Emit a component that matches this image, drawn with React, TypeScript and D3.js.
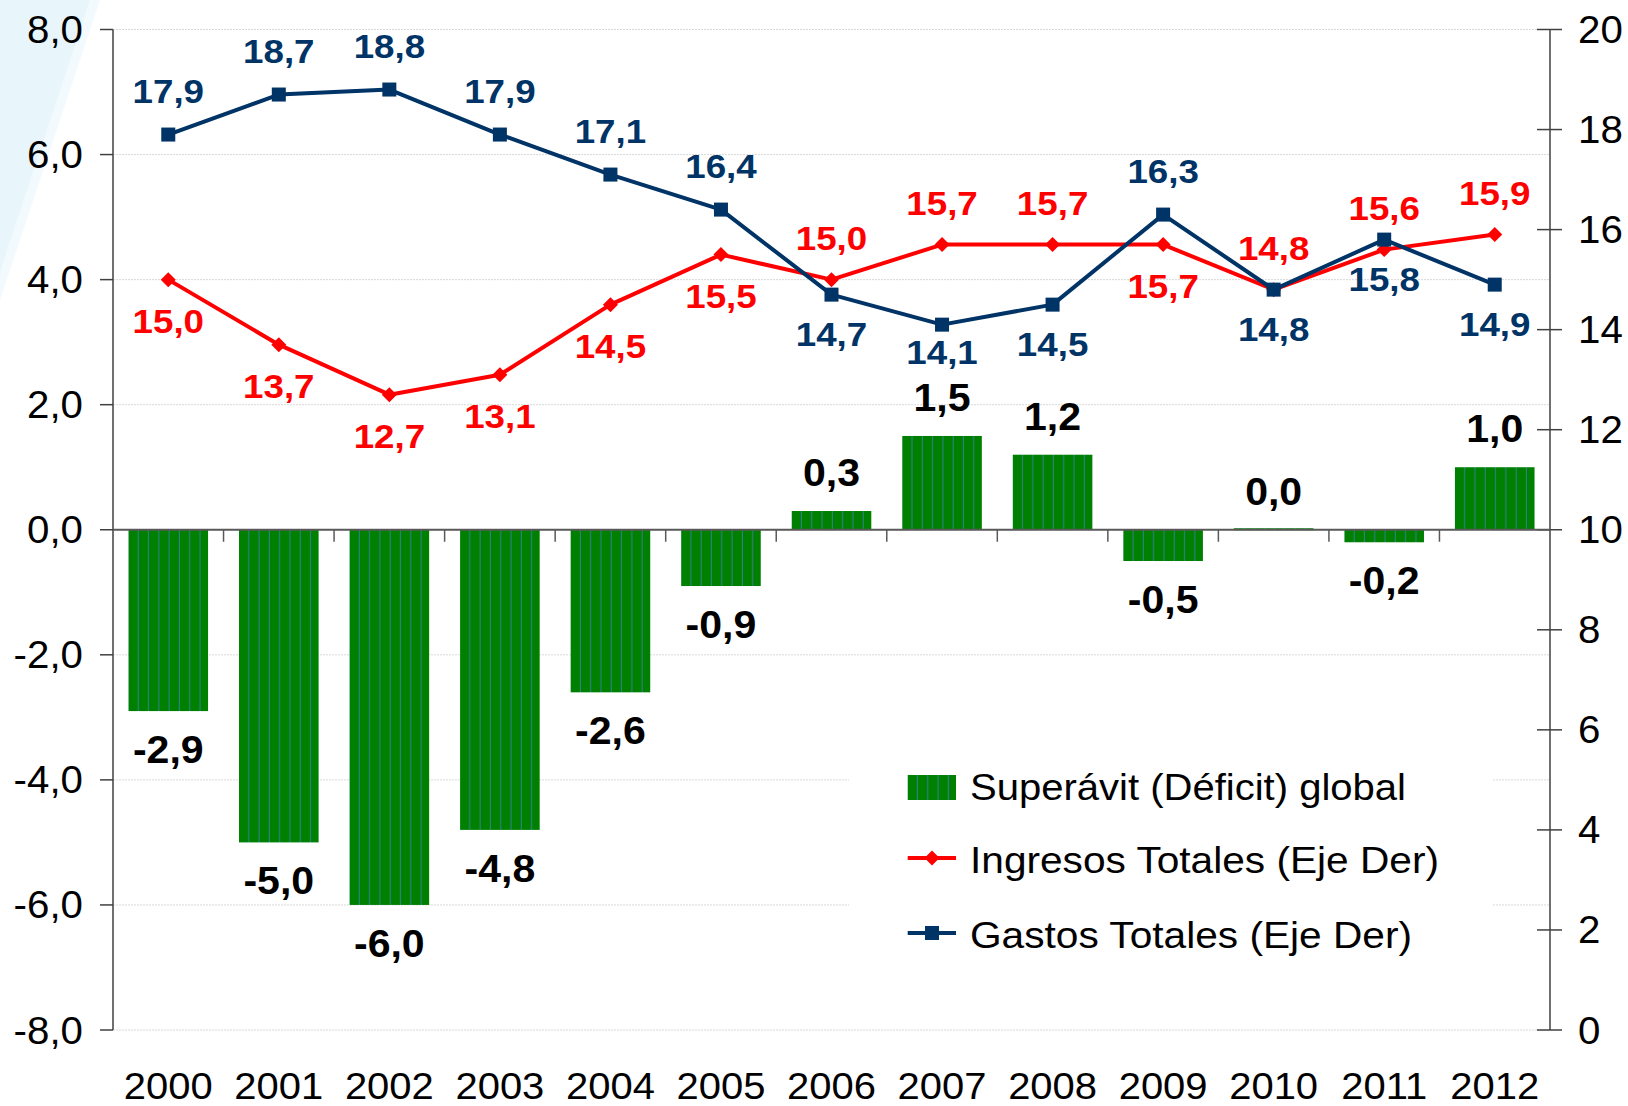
import React from 'react';
import * as d3 from 'd3';

const years = ['2000','2001','2002','2003','2004','2005','2006','2007','2008','2009','2010','2011','2012'];
const superavit = [-2.9, -5.0, -6.0, -4.8, -2.6, -0.9, 0.3, 1.5, 1.2, -0.5, 0.0, -0.2, 1.0];
const ingresos = [15.0, 13.7, 12.7, 13.1, 14.5, 15.5, 15.0, 15.7, 15.7, 15.7, 14.8, 15.6, 15.9];
const gastos = [17.9, 18.7, 18.8, 17.9, 17.1, 16.4, 14.7, 14.1, 14.5, 16.3, 14.8, 15.8, 14.9];
const leftTicks = [8, 6, 4, 2, 0, -2, -4, -6, -8];
const rightTicks = [20, 18, 16, 14, 12, 10, 8, 6, 4, 2, 0];
const legendLabels = ['Superávit (Déficit) global', 'Ingresos Totales (Eje Der)', 'Gastos Totales (Eje Der)'];

const W = 1628, H = 1106;
const L = 113, R = 1550, T = 29.5, B = 1030;
const FONT = '"Liberation Sans", Arial, Helvetica, sans-serif';
const GREEN = '#008000';
const STRIPE = '#2f8087';
const RED = '#ff0000';
const NAVY = '#003366';

const fmt1 = (v: number) => d3.format('.1f')(v).replace('.', ',').replace('−', '-');

type TxtProps = {
  x: number; y: number; sx?: number; size: number; anchor?: string; weight?: string; fill?: string; children: React.ReactNode;
};
function Txt({ x, y, sx = 1, size, anchor = 'start', weight = 'normal', fill = '#000', children }: TxtProps) {
  return (
    <text transform={`translate(${x},${y}) scale(${sx},1)`} fontSize={size} textAnchor={anchor} fontWeight={weight} fill={fill}>
      {children}
    </text>
  );
}

export default function App() {
  const x = d3.scaleBand<string>().domain(years).range([L, R]).paddingInner(0.28).paddingOuter(0.14);
  const step = x.step();
  const cx = (i: number) => (x(years[i]) as number) + x.bandwidth() / 2;
  const yL = d3.scaleLinear().domain([-8, 8]).range([B, T]);
  const yR = d3.scaleLinear().domain([0, 20]).range([B, T]);
  const line = d3.line<number>().x((_, i) => cx(i)).y((d) => yR(d));
  const y0 = yL(0);
  const bw = x.bandwidth();

  const diamond = (px: number, py: number, r = 7.5) =>
    `M${px},${py - r}L${px + r},${py}L${px},${py + r}L${px - r},${py}Z`;

  const gastosAbove = gastos.map((g, i) => g - ingresos[i] > 0.3);
  const barLabelY = superavit.map((v) => (v >= 0 ? yL(v) - 25 : yL(v) + 52));
  const barLabelTop = superavit.map((v, i) => (v >= 0 ? barLabelY[i] - 28 : Infinity));
  const belowY = (py: number, i: number) => Math.min(py + 51, barLabelTop[i] - 19);

  return (
    <svg width={W} height={H} style={{ position: 'absolute', left: 0, top: 0, background: '#fff' }} fontFamily={FONT}>
      <defs>
        {years.map((yr, i) => (
          <pattern key={yr} id={`stripe${i}`} patternUnits="userSpaceOnUse" x={x(yr) as number} y={0} width={10.3} height={20}>
            <rect x={0} y={0} width={10.3} height={20} fill={GREEN} />
            <rect x={9.2} y={0} width={2.2} height={20} fill={STRIPE} />
          </pattern>
        ))}
        <pattern id="stripeLeg" patternUnits="userSpaceOnUse" x={907.7} y={0} width={10.3} height={20}>
          <rect x={0} y={0} width={10.3} height={20} fill={GREEN} />
          <rect x={9.2} y={0} width={2.2} height={20} fill={STRIPE} />
        </pattern>
      </defs>
      <rect x={0} y={0} width={W} height={H} fill="#fff" />
      <polygon points="0,0 100,0 0,300" fill="#f3fafd" />
      <polygon points="0,0 90,0 0,272" fill="#e8f6fb" />

      {leftTicks.map((t) => (
        <line key={`g${t}`} x1={L} x2={R} y1={yL(t)} y2={yL(t)} stroke="#d9d9d9" strokeWidth={1} strokeDasharray="2,1" />
      ))}

      <rect x={849} y={752} width={643} height={212} fill="#fff" />

      {superavit.map((v, i) => (
        <rect key={`b${i}`} x={x(years[i]) as number} y={Math.min(yL(v), y0) - (v === 0 ? 1.5 : 0)} width={bw}
          height={Math.max(Math.abs(yL(v) - y0), v === 0 ? 2 : 0)} fill={`url(#stripe${i})`} />
      ))}

      <line x1={L} x2={L} y1={T} y2={B} stroke="#404040" strokeWidth={1.5} />
      {leftTicks.map((t) => (
        <g key={`lt${t}`}>
          <line x1={100} x2={L} y1={yL(t)} y2={yL(t)} stroke="#404040" strokeWidth={1.5} />
          <Txt x={83} y={yL(t) + 13.5} size={38} sx={1.06} anchor="end">{fmt1(t)}</Txt>
        </g>
      ))}
      <line x1={R} x2={R} y1={T} y2={B} stroke="#404040" strokeWidth={1.5} />
      {rightTicks.map((t) => (
        <g key={`rt${t}`}>
          <line x1={R - 13} x2={R + 12} y1={yR(t)} y2={yR(t)} stroke="#404040" strokeWidth={1.5} />
          <Txt x={1578} y={yR(t) + 13.5} size={38} sx={1.06} anchor="start">{t}</Txt>
        </g>
      ))}
      <line x1={L} x2={R} y1={y0} y2={y0} stroke="#595959" strokeWidth={2} />
      {years.map((yr, i) => (
        <g key={`xt${yr}`}>
          {i > 0 && <line x1={L + i * step} x2={L + i * step} y1={y0} y2={y0 + 12} stroke="#595959" strokeWidth={1.5} />}
          <Txt x={cx(i)} y={1099} size={37} sx={1.08} anchor="middle">{yr}</Txt>
        </g>
      ))}

      <path d={line(ingresos) as string} fill="none" stroke={RED} strokeWidth={4} strokeLinejoin="round" />
      <path d={line(gastos) as string} fill="none" stroke={NAVY} strokeWidth={4} strokeLinejoin="round" />
      {ingresos.map((v, i) => (
        <path key={`di${i}`} d={diamond(cx(i), yR(v))} fill={RED} />
      ))}
      {gastos.map((v, i) => (
        <rect key={`sq${i}`} x={cx(i) - 7} y={yR(v) - 7} width={14} height={14} fill={NAVY} />
      ))}

      {superavit.map((v, i) => (
        <Txt key={`bl${i}`} x={cx(i)} y={barLabelY[i]} size={38} sx={1.08} weight="bold" anchor="middle">{fmt1(v)}</Txt>
      ))}
      {gastos.map((v, i) => (
        <Txt key={`gl${i}`} x={cx(i)} y={gastosAbove[i] ? yR(v) - 32 : belowY(yR(v), i)} size={34} sx={1.08} weight="bold" anchor="middle" fill={NAVY}>{fmt1(v)}</Txt>
      ))}
      {ingresos.map((v, i) => (
        <Txt key={`il${i}`} x={cx(i)} y={gastosAbove[i] ? belowY(yR(v), i) + 2 : yR(v) - 30} size={34} sx={1.08} weight="bold" anchor="middle" fill={RED}>{fmt1(v)}</Txt>
      ))}

      <rect x={907.7} y={775} width={48.3} height={25} fill="url(#stripeLeg)" />
      <text x={970} y={800} fontSize={37} textLength={436} lengthAdjust="spacingAndGlyphs" fill="#000">{legendLabels[0]}</text>
      <line x1={907.7} x2={956} y1={858} y2={858} stroke={RED} strokeWidth={4} />
      <path d={diamond(932, 858)} fill={RED} />
      <text x={970} y={873} fontSize={37} textLength={469} lengthAdjust="spacingAndGlyphs" fill="#000">{legendLabels[1]}</text>
      <line x1={907.7} x2={956} y1={933} y2={933} stroke={NAVY} strokeWidth={4} />
      <rect x={925} y={926} width={14} height={14} fill={NAVY} />
      <text x={970} y={948} fontSize={37} textLength={442} lengthAdjust="spacingAndGlyphs" fill="#000">{legendLabels[2]}</text>
    </svg>
  );
}
